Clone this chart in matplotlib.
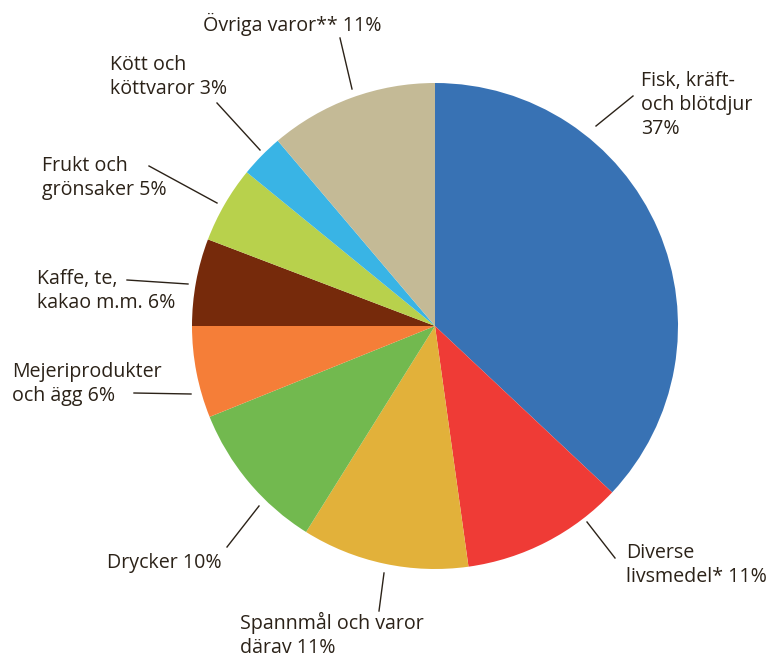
import matplotlib
matplotlib.use("Agg")
import matplotlib.pyplot as plt

# ---- data ----
categories = ["Fisk, kräft-\noch blötdjur\n37%", "Diverse\nlivsmedel* 11%", "Spannmål och varor\ndärav 11%",
              "Drycker 10%", "Mejeriprodukter\noch ägg 6%", "Kaffe, te,\nkakao m.m. 6%",
              "Frukt och\ngrönsaker 5%", "Kött och\nköttvaror 3%", "Övriga varor** 11%"]
values = [37.0, 10.8, 11.1, 10.0, 6.1, 5.8, 5.1, 2.9, 11.2]
colors = ["#3872b4", "#ef3b36", "#e2b13a", "#72b94f", "#f57e38", "#762a0b", "#b8d14c", "#39b4e5", "#c4ba96"]

# ---- layout (pixel coordinates, y measured from top) ----
W, H = 774, 659
CX, CY, R = 435, 326, 243
# label anchor (x, y, ha) and leader line (x1, y1, x2, y2)
label_pos = [(641, 105, "left"), (626, 565, "left"), (240, 635, "left"),
             (107, 563, "left"), (12, 384, "left"), (37, 291, "left"),
             (42, 178, "left"), (110, 77, "left"), (203, 24, "left")]
leaders = [(596, 126, 633, 96), (587, 522, 615, 558), (384, 573, 379, 611),
           (259, 506, 227, 547), (191, 394, 134, 393), (188, 284, 127, 280),
           (217, 203, 149, 166), (260, 150, 217, 103), (352, 89, 340, 38)]

TEXT = "#2b2218"
plt.rcParams['font.family'] = ['Open Sans', 'DejaVu Sans']

fig = plt.figure(figsize=(W / 100, H / 100), dpi=100)
ax = fig.add_axes([0, 0, 1, 1])
Y = lambda y: H - y

ax.pie(values, colors=colors, startangle=90, counterclock=False,
       center=(CX, Y(CY)), radius=R, wedgeprops=dict(linewidth=0))

for (x, y, ha), lab in zip(label_pos, categories):
    ax.text(x, Y(y), lab, ha=ha, va="center", fontsize=14.1, color=TEXT, linespacing=1.24)
for x1, y1, x2, y2 in leaders:
    ax.plot([x1, x2], [Y(y1), Y(y2)], color=TEXT, lw=1.0)

ax.set_xlim(0, W)
ax.set_ylim(0, H)
ax.set_aspect("equal")
ax.axis("off")
fig.savefig("out.png", dpi=100)
